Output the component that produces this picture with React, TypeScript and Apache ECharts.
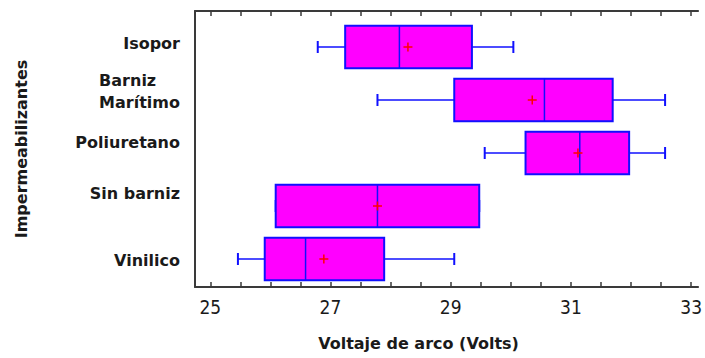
import { useEffect, useRef } from 'react';
import * as echarts from 'echarts';

const categories = ['Isopor', 'Barniz\nMarítimo', 'Poliuretano', 'Sin barniz', 'Vinilico'];
const whiskerLow = [26.76, 27.74, 29.5, 26.07, 25.45];
const quartile1 = [27.21, 29.0, 30.17, 26.07, 25.89];
const medians = [28.1, 30.48, 31.06, 27.74, 26.56];
const quartile3 = [29.29, 31.6, 31.87, 29.41, 27.85];
const whiskerHigh = [29.97, 32.46, 32.46, 29.41, 29.0];
const means = [28.24, 30.28, 31.03, 27.74, 26.86];

const xLabelValues = [25, 27, 29, 31, 33];
const xTickValues = [25, 25.5, 26, 26.5, 27, 27.5, 28, 28.5, 29, 29.5, 30, 30.5, 31, 31.5, 32, 32.5, 33];

const xAxisTitle = 'Voltaje de arco (Volts)';
const yAxisTitle = 'Impermeabilizantes';

// style only: vertical lift (px, as bottom padding) for each category label
const labelLift = [8, 18, 22, 25, -2];

const X_MIN = 24.7456;
const X_MAX = 33.115;
const FONT = "'DejaVu Sans', 'Liberation Sans', sans-serif";
const TEXT = '#1a1a1a';
const FRAME = '#3a3a3a';

export default function App() {
  const ref = useRef<HTMLDivElement>(null);
  useEffect(() => {
    if (!ref.current) return;
    const chart = echarts.init(ref.current, undefined, { renderer: 'svg' });
    const data = categories.map((_, i) => [i, whiskerLow[i], quartile1[i], medians[i], quartile3[i], whiskerHigh[i], means[i]]);
    const labelStyle = {
      fontFamily: FONT,
      fontWeight: 'bold' as const,
      fontSize: 16,
      color: TEXT,
    };
    chart.setOption({
      animation: false,
      backgroundColor: '#ffffff',
      grid: [
        { left: 195, right: 0, top: 20.5, bottom: 72.5 },
        { left: 195, right: 0, top: 11, bottom: 64.5 },
      ],
      xAxis: [
        {
          type: 'value', gridIndex: 1, position: 'bottom', min: X_MIN, max: X_MAX,
          axisLine: { show: true, lineStyle: { color: FRAME, width: 2 } },
          axisTick: { show: true, inside: true, length: 5, customValues: xTickValues, lineStyle: { color: FRAME, width: 1.5 } },
          axisLabel: { show: true, customValues: xLabelValues, margin: 10, fontFamily: "'Liberation Sans Narrow', 'DejaVu Sans Condensed', sans-serif", fontSize: 19, color: TEXT },
          splitLine: { show: false },
          name: xAxisTitle, nameLocation: 'middle', nameGap: 47,
          nameTextStyle: { ...labelStyle, lineHeight: 19, padding: [0, 56, 0, 0] },
        },
        {
          type: 'value', gridIndex: 1, position: 'top', min: X_MIN, max: X_MAX,
          axisLine: { show: true, lineStyle: { color: FRAME, width: 2 } },
          axisTick: { show: true, inside: true, length: 5, customValues: xTickValues, lineStyle: { color: FRAME, width: 1.5 } },
          axisLabel: { show: false },
          splitLine: { show: false },
        },
        {
          type: 'value', gridIndex: 0, min: X_MIN, max: X_MAX, show: false,
          splitLine: { show: false },
        },
      ],
      yAxis: [
        {
          type: 'category', gridIndex: 0, inverse: true,
          data: categories.map((c, i) => ({
            value: c,
            textStyle: labelLift[i] >= 0 ? { padding: [0, 0, labelLift[i], 0] } : { padding: [-labelLift[i], 0, 0, 0] },
          })),
          axisLine: { show: false },
          axisTick: { show: false },
          splitLine: { show: false },
          axisLabel: {
            ...labelStyle,
            margin: 15,
            align: 'right',
            lineHeight: 22,
            formatter: (v: string) => (v.includes('\n') ? v.split('\n').map((s) => `{l|${s}}`).join('\n') : v),
            rich: { l: { ...labelStyle, align: 'left', lineHeight: 22 } },
          },
        },
        {
          type: 'value', gridIndex: 1, min: 0, max: 1, position: 'left',
          axisLine: { show: true, lineStyle: { color: FRAME, width: 2 } },
          axisTick: { show: false },
          axisLabel: { show: false },
          splitLine: { show: false },
          name: yAxisTitle, nameLocation: 'middle', nameRotate: 90, nameGap: 166,
          nameTextStyle: { ...labelStyle },
        },
      ],
      series: [
        {
          type: 'custom',
          xAxisIndex: 2,
          yAxisIndex: 0,
          encode: { x: [1, 2, 3, 4, 5, 6], y: 0 },
          data,
          renderItem: (_params: any, api: any) => {
            const c = api.value(0);
            const lo = api.coord([api.value(1), c]);
            const q1 = api.coord([api.value(2), c]);
            const md = api.coord([api.value(3), c]);
            const q3 = api.coord([api.value(4), c]);
            const hi = api.coord([api.value(5), c]);
            const mn = api.coord([api.value(6), c]);
            const y = lo[1];
            const band = api.size([0, 1])[1];
            const half = band * 0.4;
            const cap = 6;
            const pl = 4.5;
            const blue = '#1010FF';
            const wStyle = { stroke: blue, lineWidth: 1.5 };
            return {
              type: 'group',
              children: [
                { type: 'line', shape: { x1: lo[0], y1: y, x2: q1[0], y2: y }, style: wStyle },
                { type: 'line', shape: { x1: q3[0], y1: y, x2: hi[0], y2: y }, style: wStyle },
                { type: 'line', shape: { x1: lo[0], y1: y - cap, x2: lo[0], y2: y + cap }, style: { stroke: blue, lineWidth: 2 } },
                { type: 'line', shape: { x1: hi[0], y1: y - cap, x2: hi[0], y2: y + cap }, style: { stroke: blue, lineWidth: 2 } },
                { type: 'rect', shape: { x: q1[0], y: y - half, width: q3[0] - q1[0], height: 2 * half }, style: { fill: '#FF00FF', stroke: blue, lineWidth: 2 } },
                { type: 'line', shape: { x1: md[0], y1: y - half, x2: md[0], y2: y + half }, style: { stroke: blue, lineWidth: 1.5 } },
                { type: 'line', shape: { x1: mn[0] - pl, y1: y, x2: mn[0] + pl, y2: y }, style: { stroke: '#FF0000', lineWidth: 1.5 } },
                { type: 'line', shape: { x1: mn[0], y1: y - pl, x2: mn[0], y2: y + pl }, style: { stroke: '#FF0000', lineWidth: 1.5 } },
              ],
            };
          },
        },
      ],
    });
    return () => chart.dispose();
  }, []);
  return <div ref={ref} style={{ width: 705, height: 358, position: 'absolute', left: 0, top: 0 }} />;
}
